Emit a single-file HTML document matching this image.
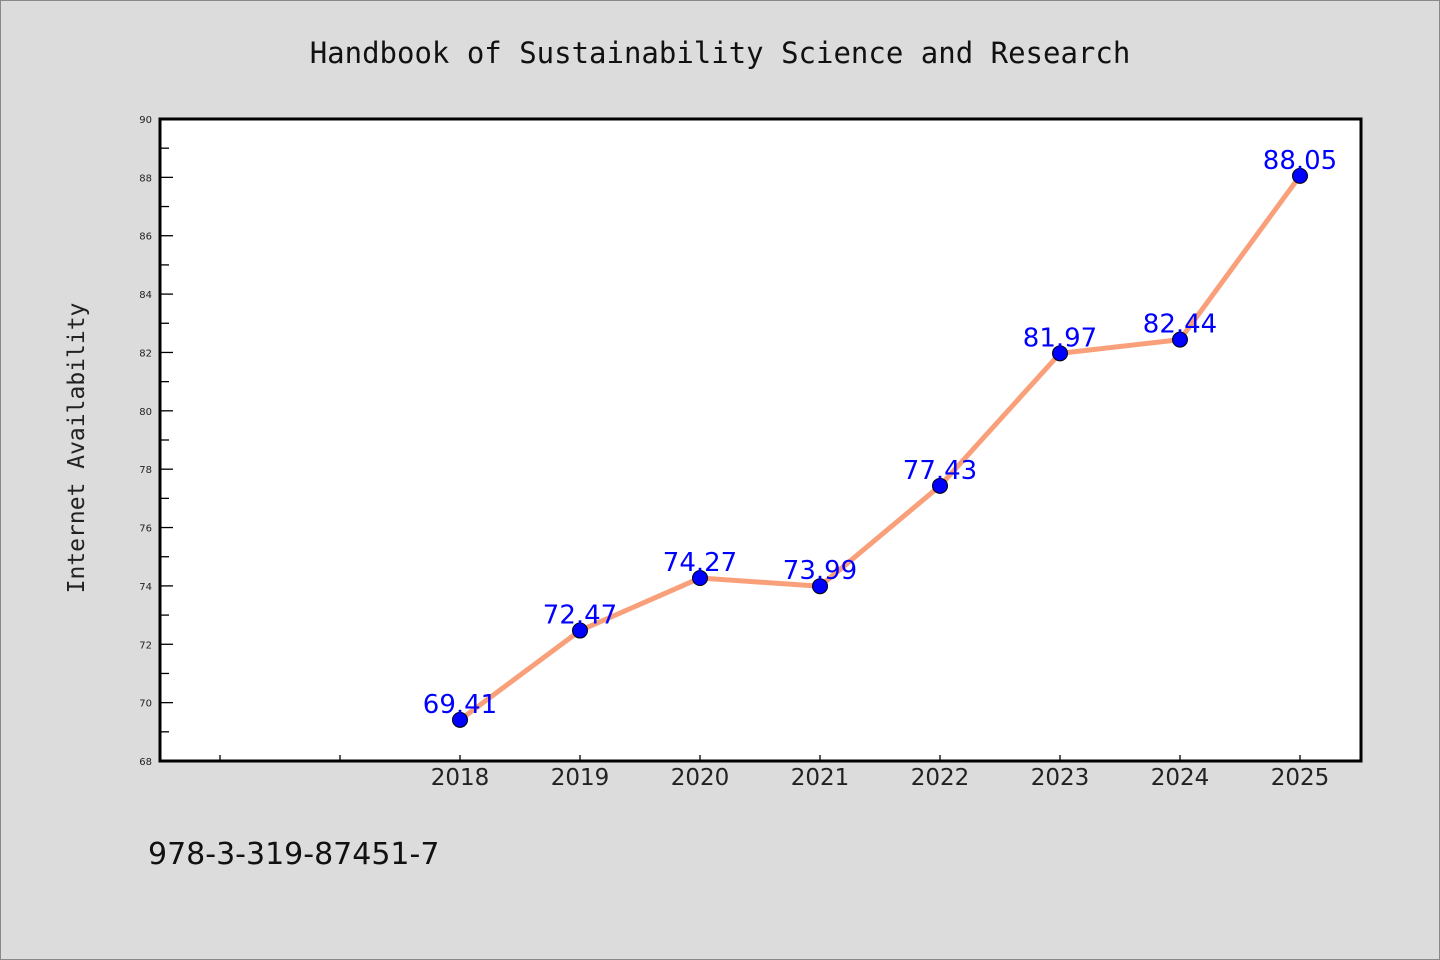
<!DOCTYPE html>
<html><head><meta charset="utf-8"><style>
html,body{margin:0;padding:0;background:#dcdcdc;}
svg{display:block;}
</style></head><body>
<svg id="chart" width="1440" height="960" xmlns="http://www.w3.org/2000/svg">
<rect x="0.5" y="0.5" width="1439" height="959" fill="#dcdcdc" stroke="#888"/>
<text x="720" y="63" text-anchor="middle" font-family="'DejaVu Sans Mono','Liberation Mono',monospace" font-size="29" fill="#111">Handbook of Sustainability Science and Research</text>
<rect x="160" y="119" width="1201" height="642" fill="#fff"/>
<g id="axes"></g>
<g id="series"></g>
<rect x="160" y="119" width="1201" height="642" fill="none" stroke="#000" stroke-width="3"/>
<text transform="translate(84,448) rotate(-90)" text-anchor="middle" font-family="'DejaVu Sans Mono','Liberation Mono',monospace" font-size="23" fill="#222">Internet Availability</text>
<text x="148" y="864" font-family="'DejaVu Sans','Liberation Sans',sans-serif" font-size="30" fill="#111">978-3-319-87451-7</text>
</svg>
<script>
const years = [2018, 2019, 2020, 2021, 2022, 2023, 2024, 2025];
const values = [69.41, 72.47, 74.27, 73.99, 77.43, 81.97, 82.44, 88.05];
const yTicks = [68, 70, 72, 74, 76, 78, 80, 82, 84, 86, 88, 90];
const xTickYears = [2016, 2017, 2018, 2019, 2020, 2021, 2022, 2023, 2024, 2025];

const NS = 'http://www.w3.org/2000/svg';
const X0 = 160, X1 = 1360, Y0 = 761, Y1 = 119;
const xMin = 2015.5, xMax = 2025.5, yMin = 68, yMax = 90;
const xs = v => X0 + (v - xMin) / (xMax - xMin) * (X1 - X0);
const ys = v => Y0 - (v - yMin) / (yMax - yMin) * (Y0 - Y1);
function mk(tag, attrs, parent) {
  const e = document.createElementNS(NS, tag);
  for (const k in attrs) e.setAttribute(k, attrs[k]);
  parent.appendChild(e);
  return e;
}
const axes = document.getElementById('axes');
const series = document.getElementById('series');
yTicks.forEach(t => {
  const y = ys(t);
  const l = mk('line', {x1: X0, x2: X0 + 13, y1: y, y2: y, stroke: '#000', 'stroke-width': 1.3}, axes);
  
  
  if (t < yMax) {
    const m = mk('line', {x1: X0, x2: X0 + 9, y1: ys(t + 1), y2: ys(t + 1), stroke: '#000', 'stroke-width': 1.3}, axes);
    
    
  }
  const tx = mk('text', {x: X0 - 8, y: y + 4, 'text-anchor': 'end', 'font-family': "'DejaVu Sans','Liberation Sans',sans-serif", 'font-size': 10, fill: '#222'}, axes);
  tx.textContent = t;
  
  
});
xTickYears.forEach(yr => {
  const x = xs(yr);
  const l = mk('line', {x1: x, x2: x, y1: Y0, y2: Y0 - 6, stroke: '#000', 'stroke-width': 1.3}, axes);
  
  
  if (years.includes(yr)) {
    const tx = mk('text', {x: x, y: Y0 + 24, 'text-anchor': 'middle', 'font-family': "'DejaVu Sans','Liberation Sans',sans-serif", 'font-size': 23, fill: '#222'}, axes);
    tx.textContent = yr;
    
    
  }
});
const pts = years.map((yr, i) => xs(yr) + ',' + ys(values[i])).join(' ');
const line = mk('polyline', {points: pts, fill: 'none', stroke: '#f9a07a', 'stroke-width': 5, 'stroke-linejoin': 'round'}, series);


years.forEach((yr, i) => {
  const c = mk('circle', {cx: xs(yr), cy: ys(values[i]), r: 7.5, fill: '#0000ff', stroke: '#000', 'stroke-width': 1}, series);
  
  
  const t = mk('text', {x: xs(yr), y: ys(values[i]) - 7, 'text-anchor': 'middle', 'font-family': "'DejaVu Sans','Liberation Sans',sans-serif", 'font-size': 26, fill: '#0000ff'}, series);
  t.textContent = values[i].toFixed(2);
  
  
});
</script>
</body></html>
